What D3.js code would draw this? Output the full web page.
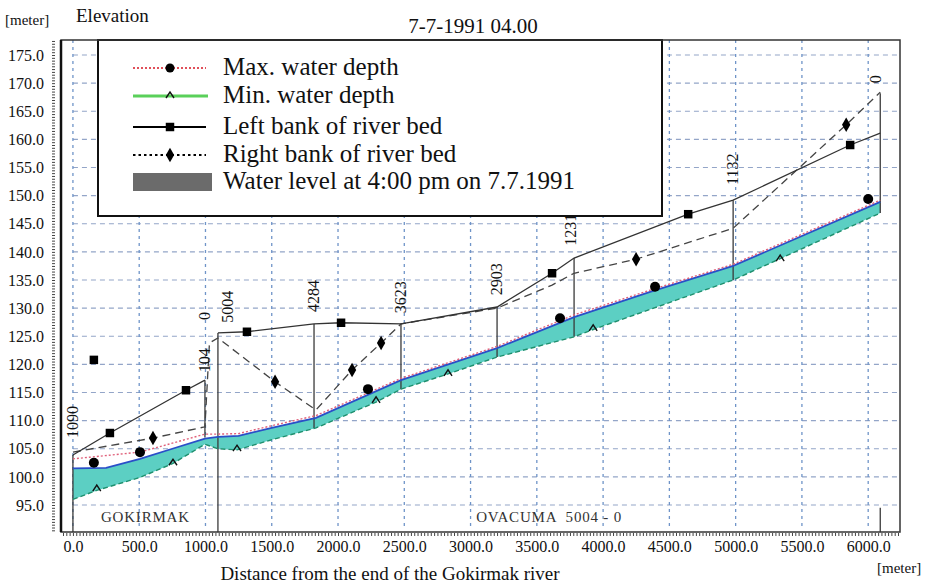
<!DOCTYPE html>
<html>
<head>
<meta charset="utf-8">
<script src="https://cdn.jsdelivr.net/npm/d3@7"></script>
<style>
  body { margin: 0; background: #fff; }
  text { font-family: "Liberation Serif", "DejaVu Serif", serif; fill: #111; }
</style>
</head>
<body>
<svg></svg>
<script>
// Chart data (distance in m, elevation in m)
const yTicks = d3.range(95, 176, 5);
const xTicks = d3.range(0, 6001, 500);

// Left bank of river bed (null = break between reaches)
const leftBankDist = [0, 279, 853, 996, null, 1094, 1313, 1819, 2023, 2475, 3200, 3615, 3781, 4642, 4981, 5864, 6091];
const leftBankElev = [103.9, 107.8, 115.4, 117.2, null, 125.6, 125.8, 127.2, 127.4, 127.2, 130.2, 136.2, 138.9, 146.7, 149.2, 159.0, 161.1];
const leftMarkDist = [158, 279, 853, 1313, 2023, 3615, 4642, 5864];
const leftMarkElev = [120.8, 107.8, 115.4, 125.8, 127.4, 136.2, 146.7, 159.0];

// Right bank of river bed
const rightBankDist = [0, 604, 996, 1030, 1094, 1525, 1834, 2106, 2325, 2475, 3200, 3615, 3781, 4249, 4981, 5834, 6091];
const rightBankElev = [104.4, 106.9, 108.9, 123.8, 124.7, 116.9, 111.9, 119.0, 123.8, 127.2, 130.0, 134.1, 136.2, 138.7, 144.2, 162.6, 168.4];
const rightMarkDist = [604, 1525, 2106, 2325, 4249, 5834];
const rightMarkElev = [106.9, 116.9, 119.0, 123.8, 138.7, 162.6];

// Max. water depth
const maxDist = [0, 506, 996, 1094, 1250, 1500, 1834, 2475, 3200, 3781, 4355, 4981, 6091];
const maxElev = [103.2, 104.4, 107.6, 107.6, 107.7, 109.1, 110.9, 117.5, 123.2, 128.8, 133.2, 137.8, 149.2];
const maxMarkDist = [158, 506, 2226, 3675, 4392, 6000];
const maxMarkElev = [102.5, 104.4, 115.6, 128.2, 133.8, 149.4];

// Water surface at 4:00 pm
const surfDist = [0, 250, 506, 750, 996, 1094, 1250, 1500, 1834, 2475, 3200, 3781, 4355, 4981, 6091];
const surfElev = [101.5, 101.6, 103.2, 105.0, 106.8, 107.1, 107.3, 108.7, 110.5, 117.2, 122.9, 128.4, 132.9, 137.5, 148.9];

// Min. water depth
const minDist = [0, 180, 506, 755, 996, 1094, 1238, 1500, 1834, 2287, 2475, 2830, 3200, 3781, 3925, 4981, 5336, 6091];
const minElev = [96.0, 97.6, 99.9, 102.4, 105.8, 105.0, 104.8, 106.6, 108.7, 113.3, 115.6, 118.3, 121.3, 124.9, 126.2, 135.0, 138.8, 146.9];
const minMarkDist = [180, 755, 1238, 2287, 2830, 3925, 5336];
const minMarkElev = [98.0, 102.6, 105.1, 113.7, 118.5, 126.5, 138.9];

// Cross sections
const secDist = [0, 996, 1094, 1819, 2475, 3200, 3781, 4981, 6091, 6091];
const secTop = [103.9, 117.2, 125.6, 127.2, 127.2, 130.2, 138.9, 149.2, 168.2, 94.5];
const secBottom = [90.2, 107.0, 90.2, 108.7, 115.6, 121.3, 124.9, 135.0, 146.9, 90.2];
const secLabels = ["1090", "0", "104", "5004", "4284", "3623", "2903", "1231", "1132", "0"];
const secLabelDist = [0, 996, 996, 1170, 1819, 2475, 3200, 3760, 4981, 6060];
const secLabelElev = [106.9, 127.9, 118.6, 127.4, 129.3, 129.1, 132.3, 141.1, 151.9, 170.0];

// River reaches
const reachNames = ["GOKIRMAK", "OVACUMA  5004 - 0"];
const reachStart = [0, 1094];
const reachEnd = [1094, 6091];

const legendLabels = ["Max. water depth", "Min. water depth", "Left bank of river bed",
                      "Right bank of river bed", "Water level at 4:00 pm on 7.7.1991"];

// Layout
const width = 931, height = 586;
const plotL = 61, plotR = 900, plotT = 40, plotB = 532;

const svg = d3.select("svg").attr("width", width).attr("height", height);

const x = d3.scaleLinear().domain([-90, 6240]).range([plotL, plotR]);
const y = d3.scaleLinear().domain([90.2, 177.67]).range([plotB, plotT]);

const pts = (ds, es) => ds.map((d, i) => [d, es[i]]);
const line = d3.line()
    .defined(p => p[0] !== null)
    .x(p => x(p[0])).y(p => y(p[1]));

// Grid
svg.append("g").selectAll("line").data(yTicks).join("line")
    .attr("x1", x(0)).attr("x2", plotR)
    .attr("y1", d => y(d)).attr("y2", d => y(d))
    .attr("stroke", "#93a5c8").attr("stroke-width", 1.2)
    .attr("stroke-dasharray", "5,4");
svg.append("g").selectAll("line").data(xTicks).join("line")
    .attr("x1", d => x(d)).attr("x2", d => x(d))
    .attr("y1", plotT).attr("y2", plotB - 6)
    .attr("stroke", "#6f94c8").attr("stroke-width", 1.3)
    .attr("stroke-dasharray", "3,4");

// Water band between surface and min water depth
const band = pts(surfDist, surfElev).concat(pts(minDist, minElev).reverse());
svg.append("path")
    .attr("d", line(band) + "Z")
    .attr("fill", "#5ccfc3");

// Cross section lines
svg.append("g").selectAll("line").data(secDist).join("line")
    .attr("x1", d => x(d)).attr("x2", d => x(d))
    .attr("y1", (d, i) => y(secTop[i])).attr("y2", (d, i) => y(secBottom[i]))
    .attr("stroke", "#3a3a3a").attr("stroke-width", 1.3);

// Lines
svg.append("path").attr("d", line(pts(minDist, minElev)))
    .attr("fill", "none").attr("stroke", "#1f8f6e").attr("stroke-width", 1.4)
    .attr("stroke-dasharray", "5,3");
svg.append("path").attr("d", line(pts(surfDist, surfElev)))
    .attr("fill", "none").attr("stroke", "#2a4fc8").attr("stroke-width", 1.8);
svg.append("path").attr("d", line(pts(maxDist, maxElev)))
    .attr("fill", "none").attr("stroke", "#e0607a").attr("stroke-width", 1.4)
    .attr("stroke-dasharray", "2,2");
svg.append("path").attr("d", line(pts(rightBankDist, rightBankElev)))
    .attr("fill", "none").attr("stroke", "#444").attr("stroke-width", 1.3)
    .attr("stroke-dasharray", "8,5");
svg.append("path").attr("d", line(pts(leftBankDist, leftBankElev)))
    .attr("fill", "none").attr("stroke", "#333").attr("stroke-width", 1.3);

// Markers
const square = d3.symbol().type(d3.symbolSquare).size(72);
const diamond = d3.symbol().type(d3.symbolDiamond).size(60);
const caret = "M-4,3L0,-3L4,3";

svg.append("g").selectAll("path").data(pts(leftMarkDist, leftMarkElev)).join("path")
    .attr("transform", p => `translate(${x(p[0])},${y(p[1])})`)
    .attr("d", square).attr("fill", "#000");
svg.append("g").selectAll("path").data(pts(rightMarkDist, rightMarkElev)).join("path")
    .attr("transform", p => `translate(${x(p[0])},${y(p[1])})`)
    .attr("d", diamond).attr("fill", "#000");
svg.append("g").selectAll("circle").data(pts(maxMarkDist, maxMarkElev)).join("circle")
    .attr("cx", p => x(p[0])).attr("cy", p => y(p[1])).attr("r", 5)
    .attr("fill", "#000");
svg.append("g").selectAll("path").data(pts(minMarkDist, minMarkElev)).join("path")
    .attr("transform", p => `translate(${x(p[0])},${y(p[1])})`)
    .attr("d", caret).attr("fill", "none").attr("stroke", "#111").attr("stroke-width", 1.4);

// Section labels (rotated)
svg.append("g").selectAll("text").data(secLabels).join("text")
    .attr("transform", (d, i) => `translate(${x(secLabelDist[i]) + 5},${y(secLabelElev[i])}) rotate(-90)`)
    .attr("font-size", 16)
    .text(d => d);

// Reach labels
svg.append("g").selectAll("text").data(reachNames).join("text")
    .attr("x", (d, i) => x((reachStart[i] + reachEnd[i]) / 2))
    .attr("y", 522)
    .attr("text-anchor", "middle")
    .attr("font-size", 15)
    .attr("letter-spacing", 0.8)
    .style("white-space", "pre")
    .style("fill", "#333")
    .text(d => d);

// Legend
const lg = svg.append("g");
lg.append("rect").attr("x", 98).attr("y", 40).attr("width", 564).attr("height", 176)
    .attr("fill", "#fff").attr("stroke", "#111").attr("stroke-width", 2);
const rowY = [68, 96, 127, 155, 182];
const sx0 = 133, sx1 = 206, sxm = 170;
lg.append("line").attr("x1", sx0).attr("x2", sx1).attr("y1", rowY[0]).attr("y2", rowY[0])
    .attr("stroke", "#e0505a").attr("stroke-width", 2).attr("stroke-dasharray", "2,2");
lg.append("circle").attr("cx", sxm).attr("cy", rowY[0]).attr("r", 4.5).attr("fill", "#000");
lg.append("line").attr("x1", sx0).attr("x2", sx1 + 2).attr("y1", rowY[1]).attr("y2", rowY[1])
    .attr("stroke", "#5ad05a").attr("stroke-width", 3);
lg.append("path").attr("transform", `translate(${sxm},${rowY[1] - 1})`).attr("d", caret)
    .attr("fill", "none").attr("stroke", "#111").attr("stroke-width", 1.4);
lg.append("line").attr("x1", sx0).attr("x2", sx1).attr("y1", rowY[2]).attr("y2", rowY[2])
    .attr("stroke", "#000").attr("stroke-width", 2.2);
lg.append("path").attr("transform", `translate(${sxm},${rowY[2]})`).attr("d", square).attr("fill", "#000");
lg.append("line").attr("x1", sx0).attr("x2", sx1).attr("y1", rowY[3]).attr("y2", rowY[3])
    .attr("stroke", "#000").attr("stroke-width", 2.2).attr("stroke-dasharray", "2.5,3");
lg.append("path").attr("transform", `translate(${sxm},${rowY[3]})`).attr("d", diamond).attr("fill", "#000");
lg.append("rect").attr("x", sx0).attr("y", rowY[4] - 9).attr("width", 79).attr("height", 18)
    .attr("fill", "#6b6b6b");
lg.selectAll("text.lab").data(legendLabels).join("text")
    .attr("class", "lab")
    .attr("x", 223).attr("y", (d, i) => rowY[i] + 7)
    .attr("font-size", 25)
    .text(d => d);

// Frame
svg.append("rect").attr("x", plotL).attr("y", plotT).attr("width", plotR - plotL).attr("height", plotB - plotT)
    .attr("fill", "none").attr("stroke", "#333").attr("stroke-width", 1.5);
svg.append("line").attr("x1", plotL).attr("x2", plotL).attr("y1", plotT).attr("y2", plotB)
    .attr("stroke", "#111").attr("stroke-width", 2.5);

// Axes
const yAxis = svg.append("g").attr("transform", "translate(53,0)")
    .call(d3.axisLeft(y).tickValues(yTicks).tickFormat(d3.format(".1f")).tickSize(0).tickPadding(9));
yAxis.select(".domain").remove();
yAxis.selectAll("text").attr("font-size", 16).style("font-family", "Liberation Serif");

const yMinor = svg.append("g").attr("transform", "translate(55,0)")
    .call(d3.axisLeft(y).tickValues(d3.range(90.5, 177.6, 0.5)).tickFormat("").tickSize(3));
yMinor.select(".domain").remove();
yMinor.selectAll("line").attr("stroke", "#444");

const xAxis = svg.append("g").attr("transform", `translate(0,${plotB})`)
    .call(d3.axisBottom(x).tickValues(xTicks).tickFormat(d3.format(".1f")).tickSize(0).tickPadding(9));
xAxis.select(".domain").remove();
xAxis.selectAll("text").attr("font-size", 16).style("font-family", "Liberation Serif");

const xMinor = svg.append("g").attr("transform", `translate(0,${plotB + 1})`)
    .call(d3.axisBottom(x).tickValues(d3.range(-75, 6240, 25)).tickFormat("").tickSize(3));
xMinor.select(".domain").remove();
xMinor.selectAll("line").attr("stroke", "#444");

// Titles
svg.append("text").attr("x", 5).attr("y", 25).attr("font-size", 15).text("[meter]");
svg.append("text").attr("x", 76).attr("y", 22).attr("font-size", 19).text("Elevation");
svg.append("text").attr("x", 473).attr("y", 33).attr("text-anchor", "middle")
    .attr("font-size", 21).text("7-7-1991 04.00");
svg.append("text").attr("x", 390).attr("y", 580).attr("text-anchor", "middle")
    .attr("font-size", 19).text("Distance from the end of the Gokirmak river");
svg.append("text").attr("x", 877).attr("y", 573).attr("font-size", 15).text("[meter]");
</script>
</body>
</html>
